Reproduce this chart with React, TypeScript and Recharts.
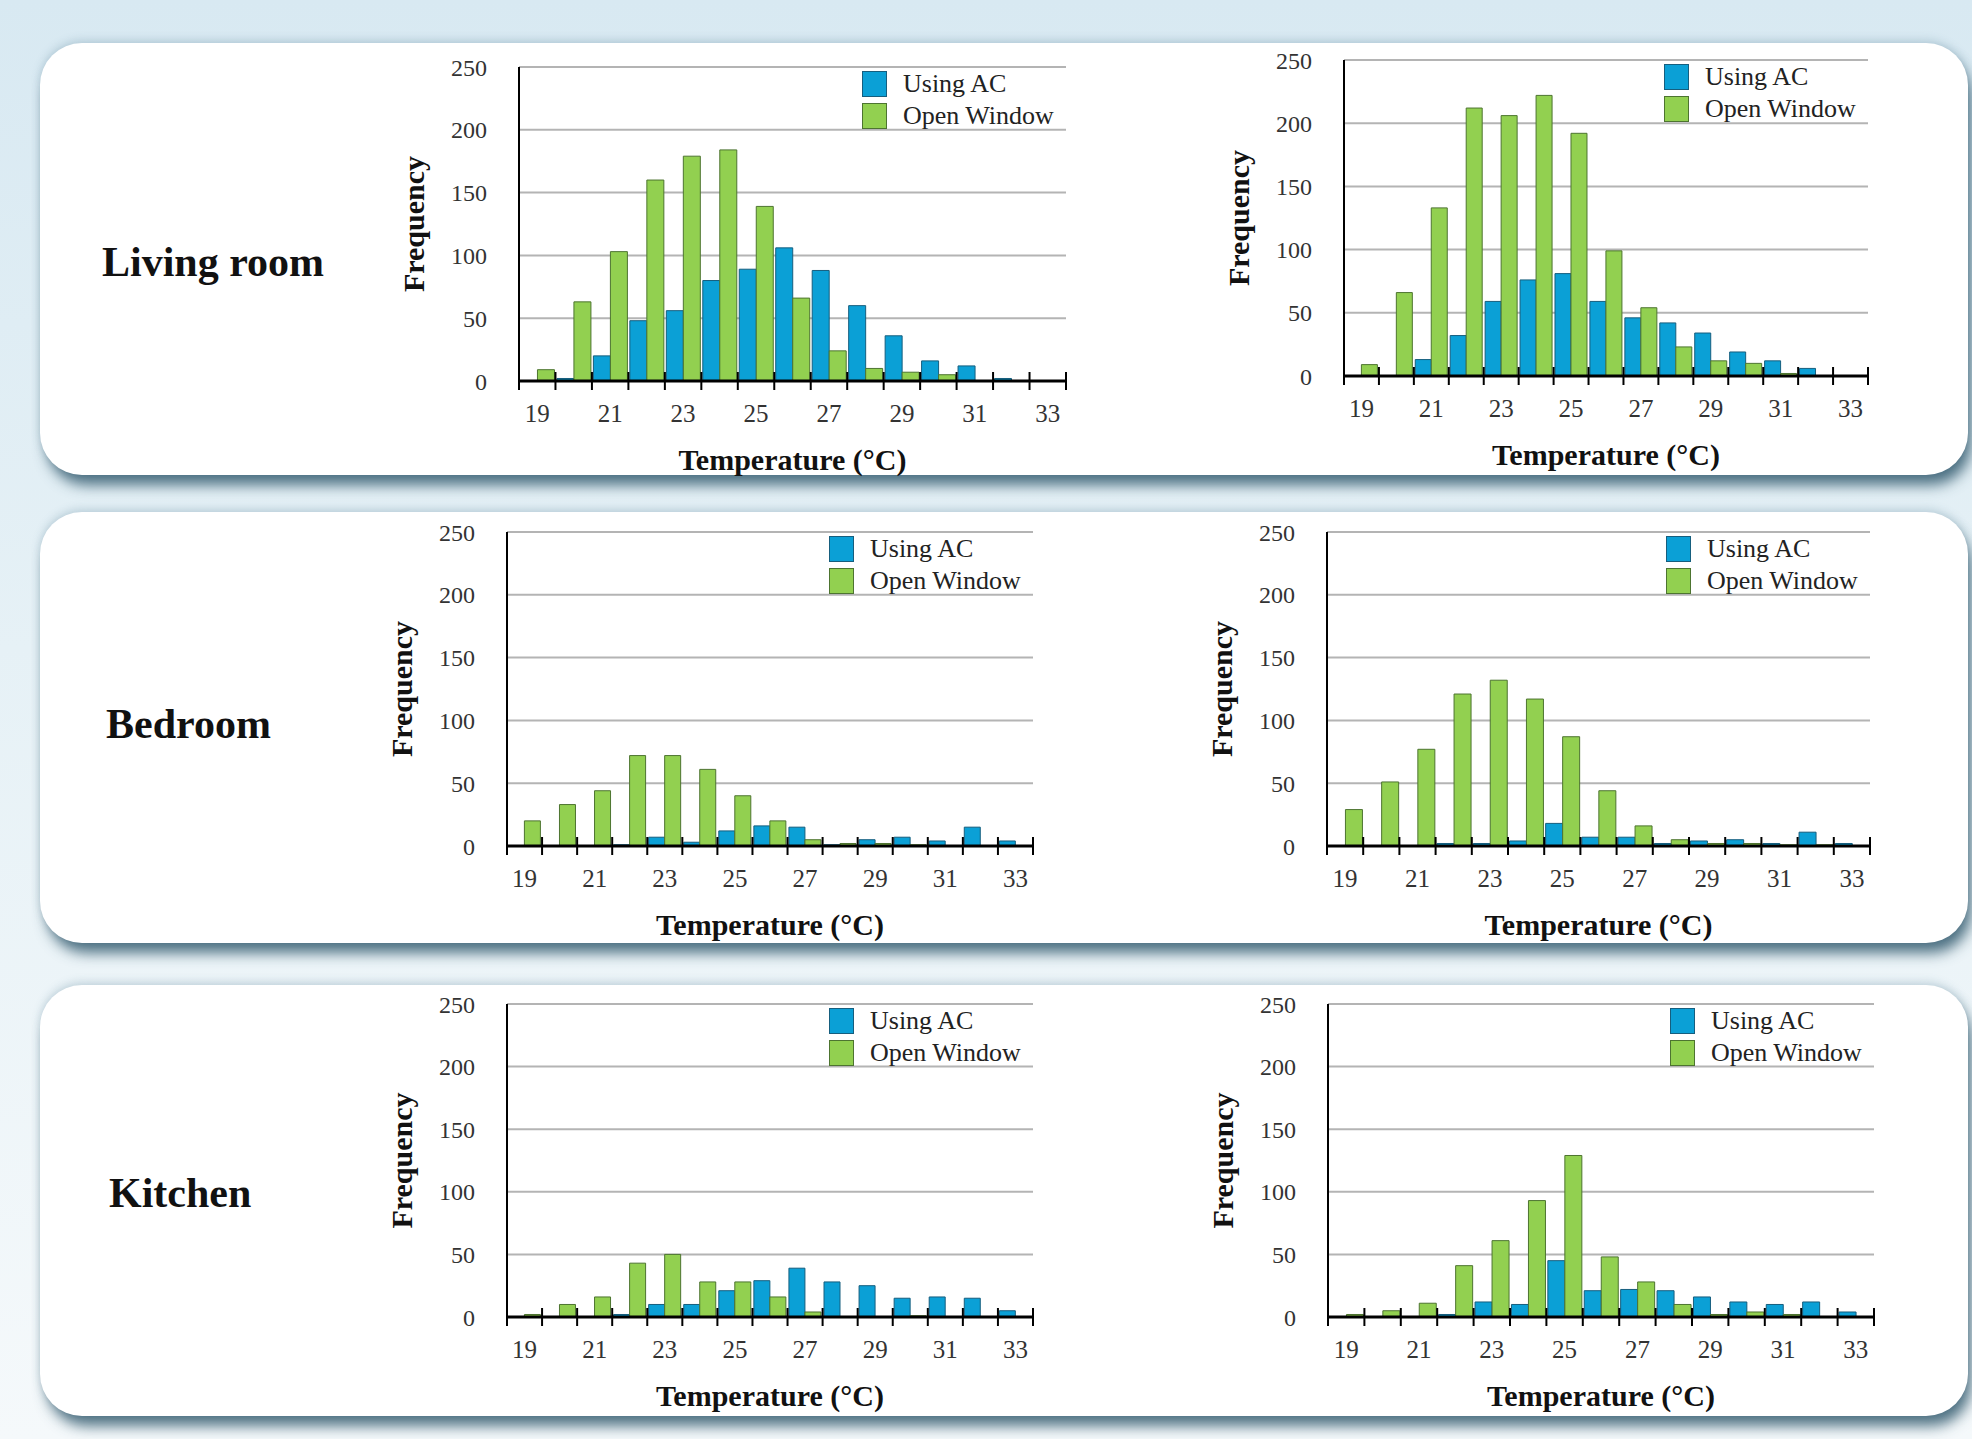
import React from 'react';
import { BarChart, Bar, XAxis, YAxis, CartesianGrid, Legend } from 'recharts';

// ---------- data ----------
const temperatures = [19, 20, 21, 22, 23, 24, 25, 26, 27, 28, 29, 30, 31, 32, 33];
const yTicks = [0, 50, 100, 150, 200, 250];
const roomNames = ['Living room', 'Bedroom', 'Kitchen'];
const seriesNames = ['Using AC', 'Open Window'];

const livingLeftAC = [0, 2, 20, 48, 56, 80, 89, 106, 88, 60, 36, 16, 12, 2, 0];
const livingLeftWindow = [9, 63, 103, 160, 179, 184, 139, 66, 24, 10, 7, 5, 0, 0, 0];
const livingRightAC = [0, 0, 13, 32, 59, 76, 81, 59, 46, 42, 34, 19, 12, 6, 0];
const livingRightWindow = [9, 66, 133, 212, 206, 222, 192, 99, 54, 23, 12, 10, 2, 0, 0];

const bedroomLeftAC = [0, 0, 0, 1, 7, 3, 12, 16, 15, 1, 5, 7, 4, 15, 4];
const bedroomLeftWindow = [20, 33, 44, 72, 72, 61, 40, 20, 5, 2, 2, 1, 0, 0, 0];
const bedroomRightAC = [0, 0, 0, 2, 2, 4, 18, 7, 7, 2, 4, 5, 2, 11, 2];
const bedroomRightWindow = [29, 51, 77, 121, 132, 117, 87, 44, 16, 5, 2, 2, 1, 1, 0];

const kitchenLeftAC = [0, 0, 0, 2, 10, 10, 21, 29, 39, 28, 25, 15, 16, 15, 5];
const kitchenLeftWindow = [2, 10, 16, 43, 50, 28, 28, 16, 4, 0, 0, 1, 0, 0, 0];
const kitchenRightAC = [0, 0, 0, 2, 12, 10, 45, 21, 22, 21, 16, 12, 10, 12, 4];
const kitchenRightWindow = [2, 5, 11, 41, 61, 93, 129, 48, 28, 10, 2, 4, 2, 0, 0];

// ---------- styling / layout ----------
const FONT = '"Liberation Serif", "Times New Roman", serif';
const COLORS: Record<string, { fill: string; stroke: string }> = {
  ac: { fill: '#0ba0d6', stroke: '#165e7e' },
  win: { fill: '#92d050', stroke: '#4d7430' },
};

const panels = [
  { top: 43, height: 432, labelLeft: 102, labelBaseline: 277 },
  { top: 512, height: 431, labelLeft: 106, labelBaseline: 739 },
  { top: 985, height: 431, labelLeft: 109, labelBaseline: 1208 },
];

const charts = [
  { ac: livingLeftAC, win: livingLeftWindow, axisX: 519, rightX: 1066, topY: 67, zeroY: 381 },
  { ac: livingRightAC, win: livingRightWindow, axisX: 1344, rightX: 1868, topY: 60, zeroY: 376 },
  { ac: bedroomLeftAC, win: bedroomLeftWindow, axisX: 507, rightX: 1033, topY: 532, zeroY: 846 },
  { ac: bedroomRightAC, win: bedroomRightWindow, axisX: 1327, rightX: 1870, topY: 532, zeroY: 846 },
  { ac: kitchenLeftAC, win: kitchenLeftWindow, axisX: 507, rightX: 1033, topY: 1004, zeroY: 1317 },
  { ac: kitchenRightAC, win: kitchenRightWindow, axisX: 1328, rightX: 1874, topY: 1004, zeroY: 1317 },
];

const PAD_L = 130;
const PAD_T = 24;
const PAD_R = 20;
const X_AXIS_H = 100;

const XTick = (props: any) => {
  const { x, y, payload, index, band } = props;
  const v = Number(payload.value);
  return (
    <g>
      {index === 0 && (
        <line x1={x - band / 2} y1={y - 9} x2={x - band / 2} y2={y + 9} stroke="#000" strokeWidth={2} />
      )}
      <line x1={x + band / 2} y1={y - 9} x2={x + band / 2} y2={y + 9} stroke="#000" strokeWidth={2} />
      {v % 2 === 1 && (
        <text x={x} y={y + 41} textAnchor="middle" fontSize={25} fontFamily={FONT} fill="#333">
          {payload.value}
        </text>
      )}
    </g>
  );
};

const LegendContent = (props: any) => {
  const items = [...(props.payload || [])].sort(
    (a: any, b: any) => seriesNames.indexOf(a.value) - seriesNames.indexOf(b.value)
  );
  return (
    <div style={{ fontFamily: FONT }}>
      {items.map((entry: any) => {
        const c = COLORS[entry.dataKey as string];
        return (
          <div key={entry.value} style={{ display: 'flex', alignItems: 'center', height: 32 }}>
            <span
              style={{
                display: 'inline-block',
                width: 23,
                height: 24,
                background: c.fill,
                border: `1px solid ${c.stroke}`,
              }}
            />
            <span style={{ marginLeft: 16, fontSize: 26, color: '#222', lineHeight: '32px', whiteSpace: 'nowrap' }}>
              {entry.value}
            </span>
          </div>
        );
      })}
    </div>
  );
};

function Histogram({ ac, win, axisX, rightX, topY, zeroY }: any) {
  const plotW = rightX - axisX;
  const plotH = zeroY - topY;
  const width = PAD_L + plotW + PAD_R;
  const height = PAD_T + plotH + X_AXIS_H + 5;
  const band = plotW / temperatures.length;
  const data = temperatures.map((t, i) => ({ t, ac: ac[i], win: win[i] }));

  const yTitle = () => (
    <text
      x={0}
      y={0}
      transform={`translate(${PAD_L - 95}, ${PAD_T + plotH / 2}) rotate(-90)`}
      textAnchor="middle"
      fontSize={30}
      fontWeight="bold"
      fontFamily={FONT}
      fill="#111"
    >
      Frequency
    </text>
  );
  const xTitle = () => (
    <text
      x={PAD_L + plotW / 2}
      y={PAD_T + plotH + 89}
      textAnchor="middle"
      fontSize={30}
      fontWeight="bold"
      fontFamily={FONT}
      fill="#111"
    >
      Temperature (°C)
    </text>
  );

  return (
    <div style={{ position: 'absolute', left: axisX - PAD_L, top: topY - PAD_T }}>
      <BarChart
        width={width}
        height={height}
        data={data}
        margin={{ top: PAD_T, right: PAD_R, left: 0, bottom: 5 }}
        barCategoryGap="4%"
        barGap={0}
      >
        <CartesianGrid vertical={false} stroke="#b4b4b4" strokeWidth={2} />
        <XAxis
          dataKey="t"
          height={X_AXIS_H}
          interval={0}
          tickLine={false}
          tickSize={0}
          tickMargin={0}
          axisLine={{ stroke: '#000', strokeWidth: 3 }}
          tick={(p: any) => <XTick {...p} band={band} />}
          label={xTitle}
        />
        <YAxis
          width={PAD_L}
          domain={[0, 250]}
          ticks={yTicks}
          interval={0}
          tickLine={false}
          tickSize={0}
          tickMargin={32}
          axisLine={{ stroke: '#000', strokeWidth: 2 }}
          tick={{ fontSize: 24, fill: '#333', fontFamily: FONT }}
          label={yTitle}
        />
        <Legend
          layout="horizontal"
          verticalAlign="middle"
          align="center"
          wrapperStyle={{ left: PAD_L + plotW - 204, top: PAD_T + 1, width: 230, height: 66 }}
          content={LegendContent}
        />
        <Bar
          dataKey="ac"
          name={seriesNames[0]}
          fill={COLORS.ac.fill}
          stroke={COLORS.ac.stroke}
          strokeWidth={1}
          isAnimationActive={false}
        />
        <Bar
          dataKey="win"
          name={seriesNames[1]}
          fill={COLORS.win.fill}
          stroke={COLORS.win.stroke}
          strokeWidth={1}
          isAnimationActive={false}
        />
      </BarChart>
    </div>
  );
}

export default function App() {
  return (
    <div
      style={{
        position: 'absolute',
        left: 0,
        top: 0,
        width: 1972,
        height: 1439,
        overflow: 'hidden',
        background: 'linear-gradient(180deg, #d8e9f2 0%, #e6f1f6 45%, #f5f9fb 100%)',
      }}
    >
      {panels.map((p, i) => (
        <div
          key={i}
          style={{
            position: 'absolute',
            left: 40,
            top: p.top,
            width: 1928,
            height: p.height,
            background: '#fff',
            borderRadius: 42,
            boxShadow: '5px 12px 14px -2px rgba(50,90,110,0.85), 0 -3px 9px rgba(100,140,160,0.3)',
          }}
        />
      ))}
      {panels.map((p, i) => (
        <div
          key={'l' + i}
          style={{
            position: 'absolute',
            left: p.labelLeft,
            top: p.labelBaseline - 36,
            fontFamily: FONT,
            fontWeight: 'bold',
            fontSize: 42,
            lineHeight: '42px',
            color: '#111',
            whiteSpace: 'nowrap',
          }}
        >
          {roomNames[i]}
        </div>
      ))}
      {charts.map((c, i) => (
        <Histogram key={i} {...c} />
      ))}
    </div>
  );
}
